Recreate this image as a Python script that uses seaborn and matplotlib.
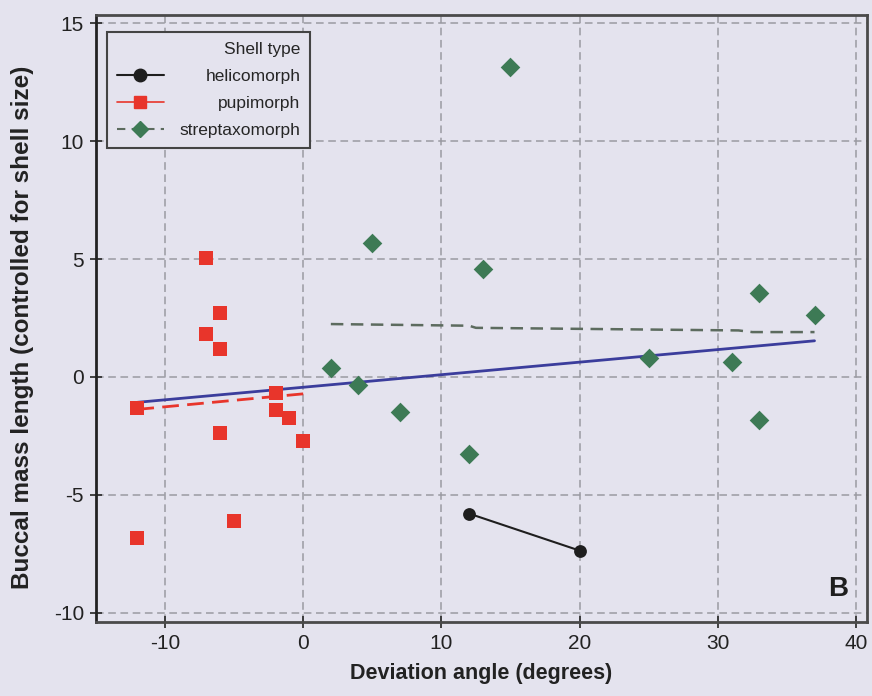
import matplotlib
matplotlib.use("Agg")
import matplotlib.pyplot as plt
from matplotlib.lines import Line2D
import seaborn as sns
import pandas as pd

# ---- data ----
heli_x = [12, 20]
heli_y = [-5.8, -7.37]
pupi_x = [-12, -7, -6, -7, -6, -2, -2, -1, 0, -6, -5, -12]
pupi_y = [-1.3, 5.03, 2.7, 1.8, 1.2, -0.67, -1.41, -1.74, -2.72, -2.4, -6.1, -6.85]
strep_x = [15, 5, 13, 2, 4, 7, 12, 33, 37, 25, 31, 33]
strep_y = [13.14, 5.68, 4.59, 0.39, -0.34, -1.47, -3.28, 3.57, 2.61, 0.79, 0.61, -1.81]

all_fit_x = [-12, 37]
all_fit_y = [-1.08, 1.53]
pupi_fit_x = [-12, 0]
pupi_fit_y = [-1.38, -0.72]
strep_fit_x = [2, 12, 12.5, 31.5, 32.5, 37]
strep_fit_y = [2.24, 2.17, 2.08, 1.97, 1.90, 1.90]

groups = ["helicomorph", "pupimorph", "streptaxomorph"]
x_ticks = [-10, 0, 10, 20, 30, 40]
y_ticks = [-10, -5, 0, 5, 10, 15]

BG = "#E4E3EE"
RED = "#E8352B"
GREEN = "#3D7A55"
BLUE = "#3B3D9C"
GDASH = "#5C6B5E"
BLACK = "#1E1E1E"

df = pd.DataFrame({
    "x": heli_x + pupi_x + strep_x,
    "y": heli_y + pupi_y + strep_y,
    "type": [groups[0]] * len(heli_x) + [groups[1]] * len(pupi_x) + [groups[2]] * len(strep_x),
})

sns.set_theme(style="white")
plt.rcParams["font.family"] = ["Liberation Sans", "DejaVu Sans"]

fig = plt.figure(figsize=(8.72, 6.96), dpi=100, facecolor=BG)
ax = fig.add_axes([0.110, 0.1063, 0.8843, 0.8721])
ax.set_facecolor(BG)

# fitted lines
sns.lineplot(x=all_fit_x, y=all_fit_y, ax=ax, color=BLUE, lw=2.0, zorder=2)
sns.lineplot(x=pupi_fit_x, y=pupi_fit_y, ax=ax, color=RED, lw=2.0, zorder=2)
ax.lines[-1].set_dashes((6, 3))
sns.lineplot(x=strep_fit_x, y=strep_fit_y, ax=ax, color=GDASH, lw=1.8, zorder=2)
ax.lines[-1].set_dashes((5, 3))
sns.lineplot(x=heli_x, y=heli_y, ax=ax, color=BLACK, lw=1.5, zorder=2)

palette = {groups[0]: BLACK, groups[1]: RED, groups[2]: GREEN}
markers = {groups[0]: "o", groups[1]: "s", groups[2]: "D"}
sizes = {groups[0]: 85, groups[1]: 100, groups[2]: 100}
for g in groups:
    sub = df[df["type"] == g]
    sns.scatterplot(data=sub, x="x", y="y", ax=ax, color=palette[g], marker=markers[g],
                    s=sizes[g], linewidth=0, legend=False, zorder=3)

ax.set_xlim(-15.0, 40.8)
ax.set_ylim(-10.4, 15.35)
ax.set_xticks(x_ticks)
ax.set_yticks(y_ticks)
ax.set_xticklabels([str(t) for t in x_ticks])
ax.set_yticklabels([str(t) for t in y_ticks])
ax.grid(True, color="#9A9AA2", linestyle=(0, (5, 3)), linewidth=1.1)
ax.tick_params(axis="both", direction="inout", length=9, width=1.3, color="#333333",
               labelsize=15, labelcolor="#222222", pad=4, left=True, bottom=True)
for s in ax.spines.values():
    s.set_color("#4A4A4A")
    s.set_linewidth(2.0)
ax.spines["left"].set_color("#222222")

ax.set_xlabel("Deviation angle (degrees)", fontsize=15.5, fontweight="bold", color="#222222", labelpad=7)
ax.set_ylabel("Buccal mass length (controlled for shell size)", fontsize=17.5, fontweight="bold",
              color="#222222")
ax.yaxis.set_label_coords(-0.080, 0.486)

ax.text(0.962, 0.055, "B", transform=ax.transAxes, fontsize=20, fontweight="bold",
        color="#1E1E1E", ha="center", va="center")

handles = [
    Line2D([], [], color=BLACK, lw=1.5, marker="o", markersize=9),
    Line2D([], [], color=RED, lw=1.2, marker="s", markersize=9),
    Line2D([], [], color=GDASH, lw=1.5, ls=(0, (4, 3)), marker="D", markersize=8,
           markerfacecolor=GREEN, markeredgecolor=GREEN),
]
leg_font = {"family": ["Liberation Sans Narrow", "Liberation Sans", "DejaVu Sans"], "size": 12.5}
leg = ax.legend(handles, groups, title="Shell type", loc="upper left",
                bbox_to_anchor=(0.015, 0.972), borderaxespad=0.0,
                prop=leg_font, title_fontproperties=leg_font,
                alignment="right", frameon=True, fancybox=False, framealpha=1,
                facecolor=BG, edgecolor="#444444", handlelength=2.7, handletextpad=0.9,
                labelspacing=0.7, borderpad=0.55)
leg.get_frame().set_linewidth(1.5)

fig.canvas.draw()
r = fig.canvas.get_renderer()
texts = leg.get_texts()
widths = [t.get_window_extent(r).width for t in texts]
mw = max(widths)
rows = leg._legend_handle_box.get_children()[0].get_children()
for row, w in zip(rows, widths):
    row.sep += (mw - w) * 72.0 / fig.dpi

fig.savefig("out.png", dpi=100, facecolor=BG)
